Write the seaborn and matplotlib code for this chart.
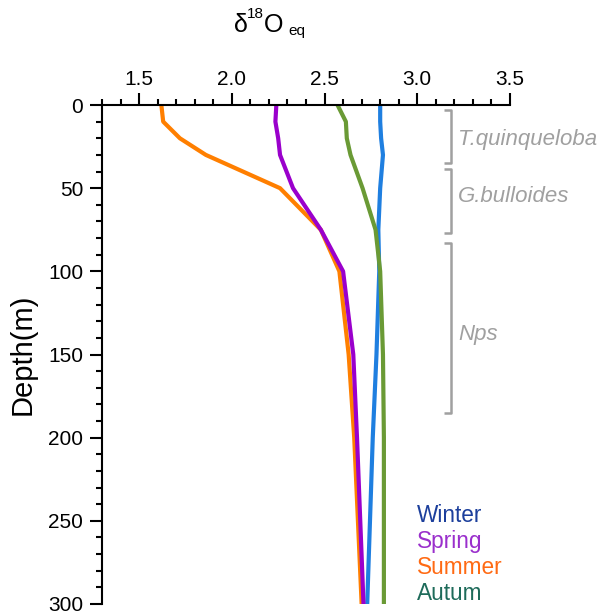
import numpy as np
import pandas as pd
import matplotlib
matplotlib.use("Agg")
import matplotlib.pyplot as plt
import seaborn as sns
from matplotlib.ticker import MultipleLocator

depth = [0, 10, 20, 30, 50, 75, 100, 150, 200, 300]
winter = [2.80, 2.80, 2.805, 2.815, 2.80, 2.79, 2.795, 2.78, 2.76, 2.73]
spring = [2.24, 2.235, 2.25, 2.26, 2.33, 2.48, 2.60, 2.655, 2.675, 2.71]
summer = [1.62, 1.63, 1.72, 1.86, 2.26, 2.48, 2.58, 2.63, 2.66, 2.70]
autumn = [2.57, 2.615, 2.62, 2.64, 2.705, 2.775, 2.80, 2.815, 2.82, 2.82]

seasons = ["Winter", "Summer", "Spring", "Autumn"]
line_colors = {"Winter": "#1f7fe0", "Spring": "#9a00cc", "Summer": "#ff7f00", "Autumn": "#6a9a35"}
legend_labels = ["Winter", "Spring", "Summer", "Autum"]
legend_colors = ["#1c3f9c", "#9a2fcc", "#ff6a13", "#1e6b5a"]

groups = ["T.quinqueloba", "G.bulloides", "Nps"]
group_top = [3, 38.5, 83]
group_bottom = [35, 77, 185]
group_label_depth = [21, 55, 138]

rows = []
for name, vals in zip(["Winter", "Spring", "Summer", "Autumn"], [winter, spring, summer, autumn]):
    for d, v in zip(depth, vals):
        rows.append({"season": name, "depth": d, "value": v})
df = pd.DataFrame(rows)

sns.set_theme(style="white")
plt.rcParams["font.family"] = ["Liberation Sans", "DejaVu Sans"]
plt.rcParams["text.color"] = "black"
plt.rcParams["axes.labelcolor"] = "black"
plt.rcParams["xtick.color"] = "black"
plt.rcParams["ytick.color"] = "black"

W, H = 600, 612
fig = plt.figure(figsize=(6.0, 6.12), dpi=100)
ax = fig.add_axes([0.17, 0.0131, 0.68, 0.8153])

sns.lineplot(data=df, x="value", y="depth", hue="season", hue_order=seasons,
             palette=line_colors, orient="y", sort=False, estimator=None,
             lw=3, legend=False, ax=ax)

ax.set_xlim(1.3, 3.5)
ax.set_ylim(300, 0)
ax.xaxis.tick_top()
ax.set_xticks([1.5, 2.0, 2.5, 3.0, 3.5])
ax.set_xticklabels(["1.5", "2.0", "2.5", "3.0", "3.5"])
ax.xaxis.set_minor_locator(MultipleLocator(0.1))
ax.set_yticks([0, 50, 100, 150, 200, 250, 300])
ax.yaxis.set_minor_locator(MultipleLocator(10))
ax.tick_params(axis="both", which="major", length=8.5, width=1.5, direction="out",
               labelsize=15, color="black", labelcolor="black", pad=3)
ax.tick_params(axis="y", which="major", pad=5)
ax.tick_params(axis="both", which="minor", length=4.5, width=1.5, direction="out", color="black")
ax.tick_params(axis="x", which="both", top=True, bottom=False)
ax.tick_params(axis="y", which="both", left=True, right=False)
for s in ["right", "bottom"]:
    ax.spines[s].set_visible(False)
for s in ["top", "left"]:
    ax.spines[s].set_linewidth(1.5)
    ax.spines[s].set_color("black")
ax.set_xlabel("")
ax.set_ylabel("Depth(m)", fontsize=21, labelpad=8, color="black")

# title: δ18Oeq built from pieces
fig.text(234 / W, 1 - 32 / H, "δ", fontsize=18, ha="left", va="baseline")
fig.text(247 / W, 1 - 17.5 / H, "18", fontsize=11, ha="left", va="baseline")
fig.text(263.5 / W, 1 - 32 / H, "O", fontsize=18, ha="left", va="baseline")
fig.text(288 / W, 1 - 35 / H, "eq", fontsize=11, ha="left", va="baseline")

gray = "#a0a0a0"
for g, t, b, ld in zip(groups, group_top, group_bottom, group_label_depth):
    ax.plot([3.143, 3.18, 3.18, 3.143], [t, t, b, b], color=gray, lw=1.8,
            clip_on=False, solid_capstyle="butt")
    ax.text(3.22, ld, g, color=gray, fontsize=16, style="italic",
            va="center", ha="left", clip_on=False)

for i, (lab, col) in enumerate(zip(legend_labels, legend_colors)):
    ax.text(0.772, 0.178 - i * 0.052, lab, transform=ax.transAxes, color=col,
            fontsize=16.3, ha="left", va="center")

fig.savefig("out.png", dpi=100)
